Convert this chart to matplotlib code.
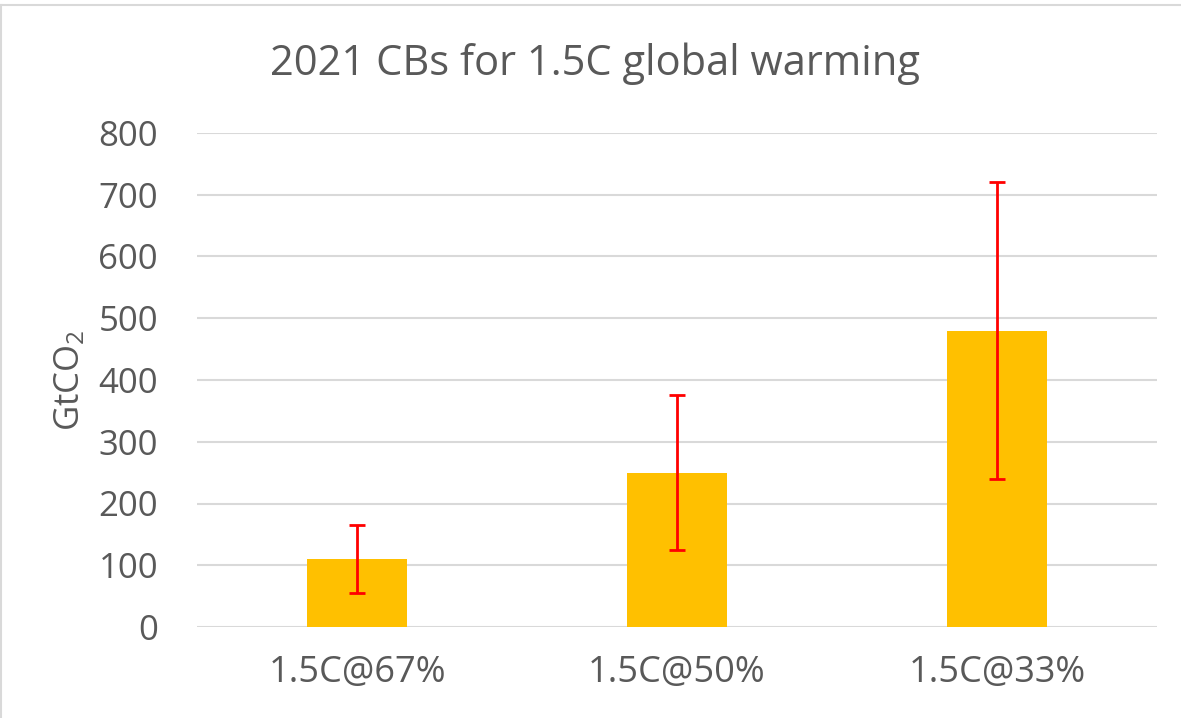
import matplotlib.pyplot as plt
from matplotlib.lines import Line2D

plt.rcParams["font.family"] = ["Open Sans", "DejaVu Sans"]
plt.rcParams["mathtext.fontset"] = "custom"
plt.rcParams["mathtext.rm"] = "Open Sans"
plt.rcParams["mathtext.it"] = "Open Sans"

categories = ["1.5C@67%", "1.5C@50%", "1.5C@33%"]
budgets = [110, 250, 480]
err_low = [55, 125, 240]
err_high = [165, 375, 720]

text_color = "#595959"

fig = plt.figure(figsize=(11.81, 7.18), dpi=100)
ax = fig.add_axes([197 / 1181, 1 - 627 / 718, 960 / 1181, 494 / 718])

x = list(range(len(categories)))
yerr = [[b - lo for b, lo in zip(budgets, err_low)],
        [hi - b for b, hi in zip(budgets, err_high)]]
ax.bar(x, budgets, width=0.3125, color="#FFC000", zorder=2)
ax.errorbar(x, budgets, yerr=yerr, fmt="none", ecolor="#FF0000",
            elinewidth=2, capsize=5.5, capthick=2, zorder=3)

ax.set_xlim(-0.5, 2.5)
ax.set_ylim(0, 800)
ax.set_yticks(range(0, 801, 100))
ax.grid(axis="y", color="#D9D9D9", linewidth=1.5, zorder=0)
for s in ax.spines.values():
    s.set_visible(False)
ax.tick_params(axis="y", length=0, labelsize=25, colors=text_color, pad=28)
ax.tick_params(axis="x", length=0, labelsize=26, colors=text_color, pad=20)
ax.set_xticks(x)
ax.set_xticklabels(categories)
ax.set_ylabel("GtCO$_2$", fontsize=25, color=text_color, labelpad=8)

fig.text(0.504, 0.911, "2021 CBs for 1.5C global warming", ha="center",
         va="center", fontsize=30, color=text_color)

# chart border (top and left visible)
fig.add_artist(Line2D([0.0008, 1], [1 - 5 / 718] * 2, transform=fig.transFigure,
                      color="#D9D9D9", linewidth=1.5))
fig.add_artist(Line2D([0.0008, 0.0008], [0, 1 - 5 / 718], transform=fig.transFigure,
                      color="#D9D9D9", linewidth=1.5))

fig.savefig("out.png", dpi=100)
